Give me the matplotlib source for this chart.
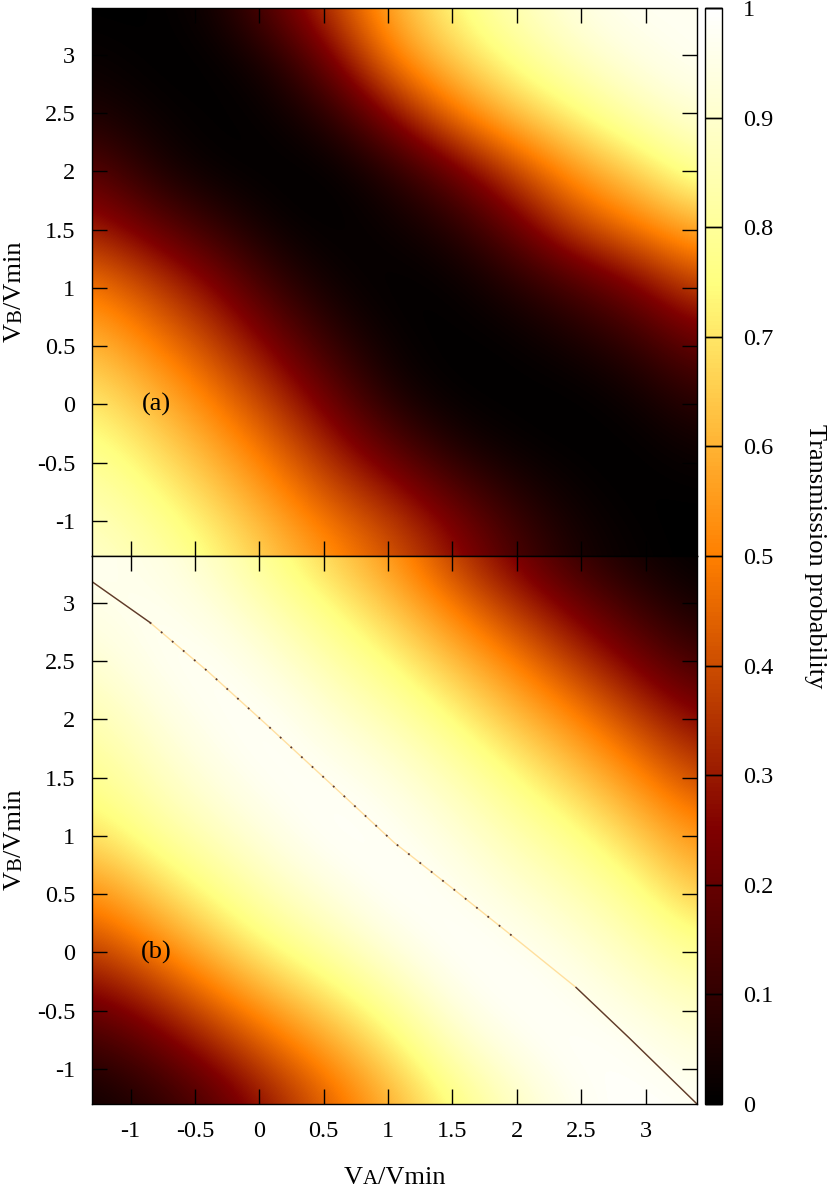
import numpy as np
import matplotlib
matplotlib.use('Agg')
import matplotlib.pyplot as plt

plt.rcParams['font.family'] = ['Liberation Serif', 'DejaVu Serif']
plt.rcParams['axes.unicode_minus'] = False

# grid nodes (V_A across, V_B down from the top)
va = [-1.3, -0.83, -0.36, 0.11, 0.58, 1.05, 1.52, 1.99, 2.46, 2.93, 3.4]
vb = [3.4, 2.93, 2.46, 1.99, 1.52, 1.05, 0.58, 0.11, -0.36, -0.83, -1.3]

# transmission, one row per vb value
trans_a = [
    [0.00, 0.00, 0.03, 0.18, 0.38, 0.60, 0.75, 0.86, 0.94, 0.98, 0.97],
    [0.02, 0.00, 0.00, 0.05, 0.23, 0.50, 0.65, 0.77, 0.87, 0.94, 0.98],
    [0.06, 0.02, 0.00, 0.01, 0.08, 0.26, 0.47, 0.62, 0.73, 0.84, 0.92],
    [0.18, 0.06, 0.01, 0.00, 0.00, 0.07, 0.20, 0.38, 0.55, 0.66, 0.80],
    [0.31, 0.20, 0.10, 0.02, 0.00, 0.02, 0.07, 0.20, 0.38, 0.49, 0.60],
    [0.48, 0.37, 0.25, 0.10, 0.02, 0.00, 0.01, 0.07, 0.15, 0.25, 0.40],
    [0.60, 0.49, 0.37, 0.22, 0.08, 0.01, 0.00, 0.01, 0.05, 0.11, 0.22],
    [0.70, 0.60, 0.48, 0.34, 0.18, 0.04, 0.00, 0.00, 0.00, 0.03, 0.10],
    [0.78, 0.69, 0.58, 0.45, 0.30, 0.16, 0.05, 0.01, 0.00, 0.00, 0.03],
    [0.85, 0.77, 0.67, 0.55, 0.42, 0.32, 0.19, 0.08, 0.02, 0.00, 0.00],
    [0.90, 0.84, 0.75, 0.64, 0.53, 0.42, 0.29, 0.15, 0.05, 0.01, 0.00],
]

# transmission
trans_b = [
    [0.97, 0.95, 0.88, 0.76, 0.65, 0.53, 0.36, 0.22, 0.10, 0.03, 0.00],
    [0.95, 0.98, 0.94, 0.85, 0.75, 0.64, 0.50, 0.36, 0.23, 0.12, 0.04],
    [0.90, 0.97, 0.99, 0.93, 0.84, 0.75, 0.63, 0.51, 0.37, 0.24, 0.13],
    [0.84, 0.92, 0.98, 0.99, 0.92, 0.85, 0.75, 0.63, 0.52, 0.38, 0.26],
    [0.78, 0.87, 0.94, 0.99, 0.98, 0.93, 0.85, 0.75, 0.64, 0.52, 0.38],
    [0.70, 0.80, 0.88, 0.95, 1.00, 0.98, 0.92, 0.84, 0.76, 0.64, 0.52],
    [0.55, 0.67, 0.78, 0.88, 0.95, 1.00, 0.97, 0.91, 0.85, 0.76, 0.62],
    [0.40, 0.52, 0.65, 0.77, 0.86, 0.95, 1.00, 0.97, 0.92, 0.85, 0.76],
    [0.24, 0.34, 0.48, 0.61, 0.72, 0.84, 0.96, 1.00, 0.97, 0.92, 0.86],
    [0.10, 0.18, 0.30, 0.44, 0.57, 0.71, 0.87, 0.96, 1.00, 0.98, 0.93],
    [0.02, 0.07, 0.16, 0.30, 0.45, 0.60, 0.75, 0.88, 0.97, 1.00, 0.98],
]

# narrow resonance line in panel (b)
res_va = [-1.3, -0.85, -0.4, 0.05, 0.6, 1.05, 1.5, 2.0, 2.46, 2.87, 3.4]
res_vb = [3.18, 2.83, 2.41, 1.96, 1.40, 0.94, 0.55, 0.11, -0.30, -0.73, -1.3]

ticks = [-1, -0.5, 0, 0.5, 1, 1.5, 2, 2.5, 3]
tick_labels = ['-1', '-0.5', '0', '0.5', '1', '1.5', '2', '2.5', '3']
cb_ticks = [0, 0.1, 0.2, 0.3, 0.4, 0.5, 0.6, 0.7, 0.8, 0.9, 1]
cb_labels = ['0', '0.1', '0.2', '0.3', '0.4', '0.5', '0.6', '0.7', '0.8', '0.9', '1']

W, H = 830, 1190
fig = plt.figure(figsize=(W / 100, H / 100), dpi=100)
ax_a = fig.add_axes([92 / W, 1 - 556 / H, 605 / W, 548 / H])
ax_b = fig.add_axes([92 / W, 1 - 1104 / H, 605 / W, 548 / H])
cax = fig.add_axes([705 / W, 1 - 1104 / H, 17 / W, 1096 / H])

half = abs(va[1] - va[0]) / 2
ext = [va[0] - half, va[-1] + half, vb[-1] - half, vb[0] + half]

for ax, z, tag in ((ax_a, trans_a, '(a)'), (ax_b, trans_b, '(b)')):
    im = ax.imshow(np.array(z), extent=ext, origin='upper', cmap='afmhot',
                   vmin=0, vmax=1, interpolation='bicubic',
                   interpolation_stage='data', aspect='auto')
    ax.set_xlim(-1.3, 3.4)
    ax.set_ylim(-1.3, 3.4)
    ax.set_xticks(ticks, labels=tick_labels)
    ax.set_yticks(ticks, labels=tick_labels)
    ax.tick_params(direction='in', length=11, width=1.0, top=True, right=True,
                   labelsize=17.5, pad=12)
    for sp in ax.spines.values():
        sp.set_linewidth(1.0)
    ax.text(-0.8, 0.0, tag, fontsize=19, ha='center', va='center')

ax_a.tick_params(labelbottom=False)

# resonance: faint halo, dark solid ends, dotted middle
ax_b.plot(res_va, res_vb, color='#ffc050', lw=1.0, alpha=0.5)
ax_b.plot(res_va[:2], res_vb[:2], color='#5a3a30', lw=1.0)
ax_b.plot(res_va[1:-3], res_vb[1:-3], color='#5a3a30', lw=1.3,
          linestyle=(0, (1, 7)))
ax_b.plot(res_va[-3:], res_vb[-3:], color='#5a3a30', lw=1.0)

cb = fig.colorbar(im, cax=cax, ticks=cb_ticks)
cb.ax.set_yticklabels(cb_labels)
cax.tick_params(direction='in', length=12.3, width=1.0, left=True, right=True,
                labelsize=17.5, pad=15)
cb.outline.set_linewidth(1.0)

fig.text(815 / W, 1 - 556 / H, 'Transmission probability', rotation=270,
         ha='center', va='center', fontsize=19)


def split_label(x, y, parts, rotation=0):
    # parts: (text, fontsize); x, y in figure pixels from bottom-left
    r = fig.canvas.get_renderer()
    widths = []
    for s, fs in parts:
        t = fig.text(0, 0, s, fontsize=fs)
        widths.append(t.get_window_extent(r).width)
        t.remove()
    pos = -sum(widths) / 2
    for (s, fs), w in zip(parts, widths):
        if rotation == 0:
            fig.text((x + pos) / W, y / H, s, fontsize=fs, ha='left', va='baseline')
        else:
            fig.text(x / W, (y + pos) / H, s, fontsize=fs, rotation=90,
                     rotation_mode='anchor', ha='left', va='baseline')
        pos += w


split_label(394.5, 6, [('V', 19), ('A', 15), ('/Vmin', 19)])
split_label(21, H - 292, [('V', 19), ('B', 15), ('/Vmin', 19)], rotation=90)
split_label(21, H - 840, [('V', 19), ('B', 15), ('/Vmin', 19)], rotation=90)

fig.savefig('out.png', dpi=100)
